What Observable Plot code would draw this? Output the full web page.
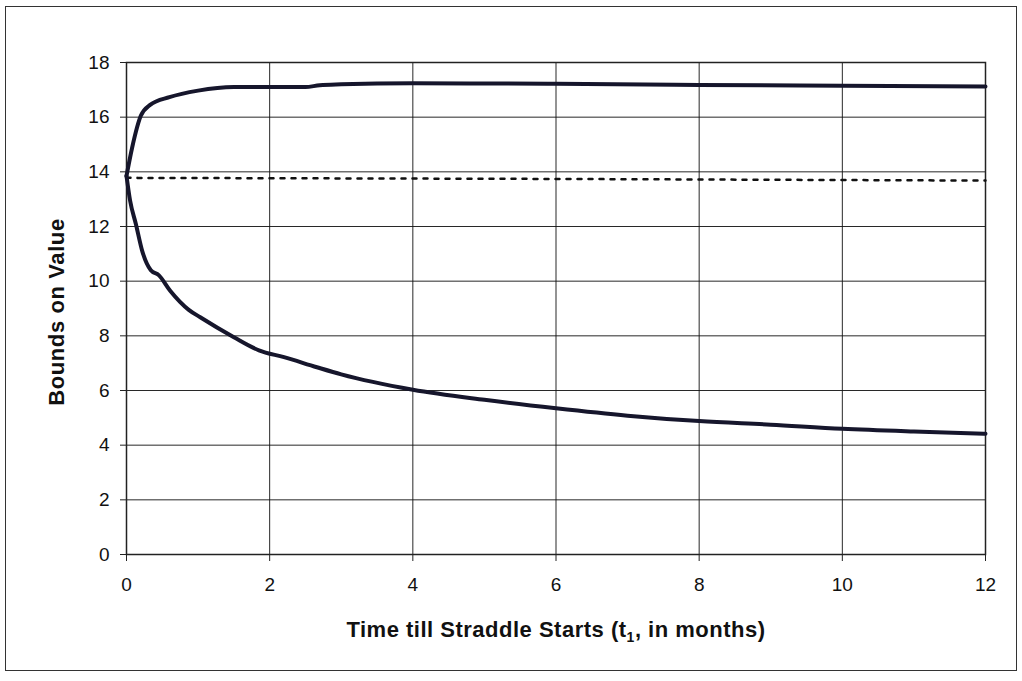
<!DOCTYPE html>
<html>
<head>
<meta charset="utf-8">
<script src="https://cdn.jsdelivr.net/npm/d3@7"></script>
<script src="https://cdn.jsdelivr.net/npm/@observablehq/plot@0.6"></script>
<style>
  html, body { margin: 0; padding: 0; background: #fff; }
  #wrap { position: relative; width: 1022px; height: 681px; overflow: hidden; }
  #border { position: absolute; left: 5px; top: 6px; width: 1010px; height: 663px; border: 1.5px solid #333; box-sizing: content-box; }
  #chart { position: absolute; left: 0; top: 0; }
</style>
</head>
<body>
<div id="wrap"><div id="border"></div><div id="chart"></div></div>
<script>
// ---- data ----
const upperT = [0, 0.08, 0.2, 0.33, 0.6, 1.0, 1.5, 2.0, 2.5, 2.7, 3.0, 4.0, 6.0, 8.0, 10.0, 12.0];
const upperV = [13.85, 14.9, 16.05, 16.45, 16.73, 16.97, 17.1, 17.1, 17.1, 17.17, 17.2, 17.24, 17.22, 17.18, 17.15, 17.12];

const lowerT = [0, 0.05, 0.13, 0.22, 0.34, 0.45, 0.61, 0.87, 1.03, 1.5, 1.85, 2.2, 2.66, 3.0, 4.0, 5.0, 6.0, 7.0, 8.0, 9.0, 10.0, 11.0, 12.0];
const lowerV = [13.85, 12.95, 12.1, 11.1, 10.4, 10.22, 9.65, 8.95, 8.68, 7.95, 7.47, 7.22, 6.85, 6.59, 6.03, 5.66, 5.35, 5.08, 4.88, 4.75, 4.6, 4.5, 4.42];

const midT = [0, 6, 12];
const midV = [13.78, 13.74, 13.68];

const xTicks = [0, 2, 4, 6, 8, 10, 12];
const yTicks = [0, 2, 4, 6, 8, 10, 12, 14, 16, 18];

const xTitle = "Time till Straddle Starts (t";
const xTitleSub = "1";
const xTitleEnd = ", in months)";
const yTitle = "Bounds on Value";

const upper = upperT.map((t, i) => ({t, v: upperV[i]}));
const lower = lowerT.map((t, i) => ({t, v: lowerV[i]}));
const mid = midT.map((t, i) => ({t, v: midV[i]}));

const FONT = "'Liberation Sans', Arial, sans-serif";
const lineColor = "#16162c";

const chart = Plot.plot({
  width: 1022,
  height: 681,
  marginLeft: 126,
  marginRight: 37,
  marginTop: 62,
  marginBottom: 127,
  style: { fontFamily: FONT, fontSize: "19px", background: "transparent", color: "#111" },
  x: { domain: [0, 12] },
  y: { domain: [0, 18] },
  marks: [
    Plot.gridX(xTicks, { stroke: "#111", strokeOpacity: 0.9, strokeWidth: 1 }),
    Plot.gridY(yTicks, { stroke: "#111", strokeOpacity: 0.9, strokeWidth: 1 }),
    Plot.frame({ stroke: "#222", strokeWidth: 1.5 }),
    Plot.line(mid, { x: "t", y: "v", stroke: "#111", strokeWidth: 2.5, strokeDasharray: "4,7" }),
    Plot.line(upper, { x: "t", y: "v", stroke: lineColor, strokeWidth: 4, curve: "monotone-x" }),
    Plot.line(lower, { x: "t", y: "v", stroke: lineColor, strokeWidth: 4, curve: "monotone-x" }),
    Plot.axisX(xTicks, { tickSize: 7, tickPadding: 16, fontSize: 19, label: null, stroke: "#222" }),
    Plot.axisY(yTicks, { tickSize: 6, tickPadding: 11, fontSize: 19, label: null, stroke: "#222" })
  ]
});

document.getElementById("chart").appendChild(chart);

const svg = d3.select(chart);
svg.selectAll("g[aria-label='x-axis tick label'], g[aria-label='y-axis tick label']")
  .attr("font-size", 19);

const xt = svg.append("text")
  .attr("x", 556).attr("y", 637)
  .attr("text-anchor", "middle")
  .attr("font-family", FONT)
  .attr("font-weight", "bold")
  .attr("font-size", 22)
  .attr("letter-spacing", "0.5px")
  .attr("fill", "#111");
xt.append("tspan").text(xTitle);
xt.append("tspan").attr("dy", 5).attr("font-size", 14).text(xTitleSub);
xt.append("tspan").attr("dy", -5).text(xTitleEnd);

svg.append("text")
  .attr("transform", "translate(58,312) rotate(-90)")
  .attr("text-anchor", "middle")
  .attr("dominant-baseline", "middle")
  .attr("font-family", FONT)
  .attr("font-weight", "bold")
  .attr("font-size", 22)
  .attr("letter-spacing", "0.6px")
  .attr("fill", "#111")
  .text(yTitle);
</script>
</body>
</html>
